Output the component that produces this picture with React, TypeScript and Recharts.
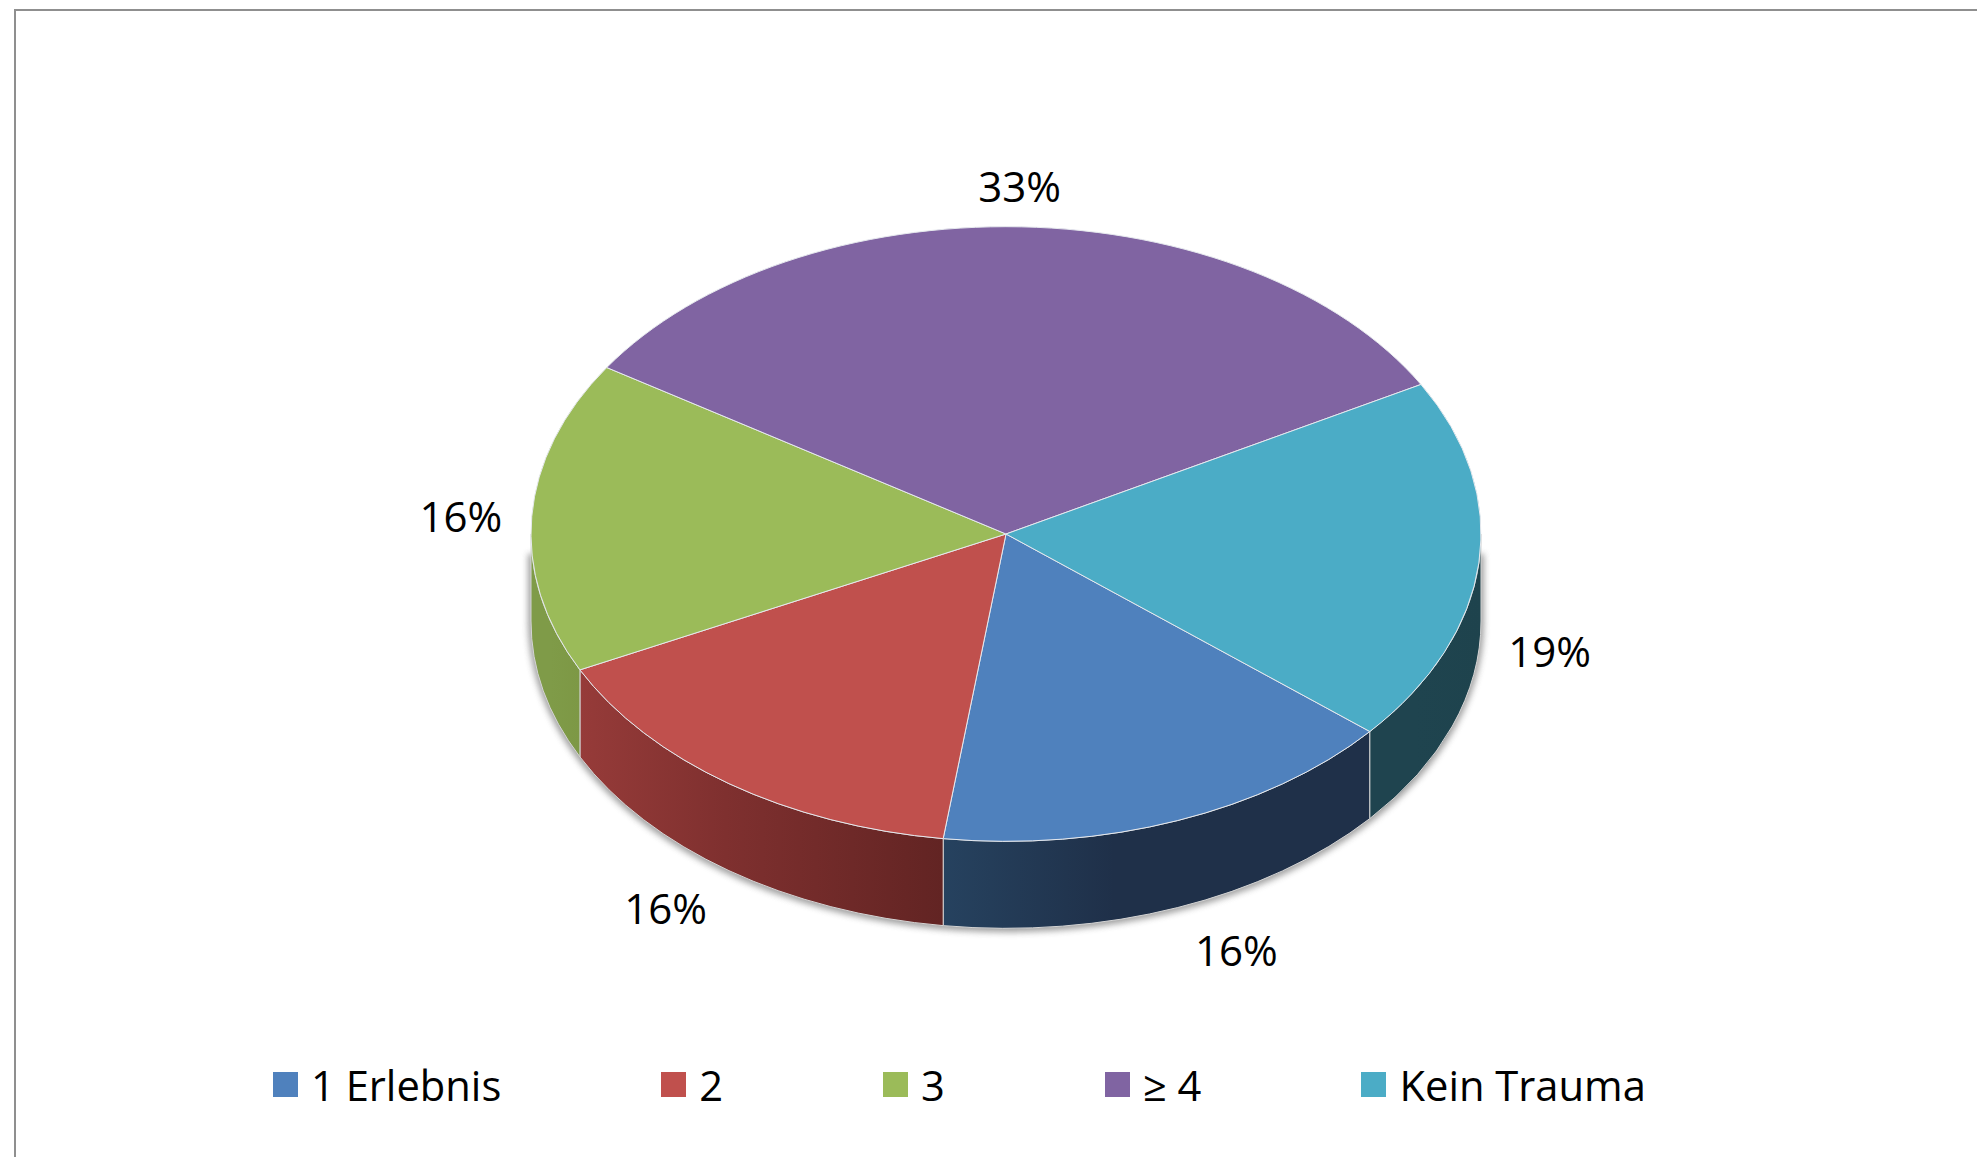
import { PieChart, Pie, Legend } from "recharts";

const categories = ["1 Erlebnis", "2", "3", "≥ 4", "Kein Trauma"];
const shares = [16.0, 15.6, 16.4, 32.8, 19.2];
const colors = ["#4f81bd", "#c0504d", "#9bbb59", "#8064a2", "#4bacc6"];

const data = categories.map((name, i) => ({ name, value: shares[i], fill: colors[i] }));

// side wall shading, left to right
const wallShades = [
  ["#26425f", "#1f3049", "#1f3049"],
  ["#963b39", "#7f302f", "#622423"],
  ["#7f9b48", "#7f9b48", "#7d9845"],
  ["#4d3b62", "#4d3b62", "#4d3b62"],
  ["#1f444f", "#1f444f", "#1e434d"],
];

const FONT = "'Open Sans', sans-serif";
const SQUASH = 0.647; // pie is tilted, so circle becomes ellipse
const DEPTH = 87;

// hand nudges for the percent labels, Excel places them a bit unevenly
const labelNudge = [
  [33, -2],
  [-22, 4],
  [0, -45],
  [-4, -3],
  [0, 30],
];

const rad = (deg: number) => (deg * Math.PI) / 180;

function PieSlice(props: any) {
  const { cx, cy, outerRadius: r, startAngle, endAngle, fill, name } = props;
  const idx = categories.indexOf(name);
  const ry = r * SQUASH;
  const pt = (a: number, dy = 0) => [cx + r * Math.cos(rad(-a)), cy + ry * Math.sin(rad(-a)) + dy];

  const [x1, y1] = pt(startAngle);
  const [x2, y2] = pt(endAngle);
  const large = Math.abs(endAngle - startAngle) > 180 ? 1 : 0;
  const top = `M${cx},${cy} L${x1},${y1} A${r},${ry} 0 ${large} 1 ${x2},${y2} Z`;

  // only the part of the rim facing the viewer gets a wall
  const from = -startAngle;
  const to = -endAngle;
  const walls: string[] = [];
  [[0, 180], [360, 540]].forEach(([lo, hi]) => {
    const a = Math.max(from, lo);
    const b = Math.min(to, hi);
    if (b > a) {
      const [ax, ay] = pt(-a);
      const [bx, by] = pt(-b);
      walls.push(
        `M${ax},${ay} A${r},${ry} 0 0 1 ${bx},${by} L${bx},${by + DEPTH} A${r},${ry} 0 0 0 ${ax},${ay + DEPTH} Z`
      );
    }
  });

  const sr = r + 3;
  const shadow = `M${cx - sr},${cy + 20} L${cx - sr},${cy + DEPTH + 1} A${sr},${ry + 3} 0 0 0 ${cx + sr},${cy + DEPTH + 1} L${cx + sr},${cy + 20} Z`;

  return (
    <g>
      <defs>
        <linearGradient id={`wall-${idx}`} x1="0" y1="0" x2="1" y2="0">
          <stop offset="0%" stopColor={wallShades[idx][0]} />
          <stop offset="40%" stopColor={wallShades[idx][1]} />
          <stop offset="100%" stopColor={wallShades[idx][2]} />
        </linearGradient>
        {idx === 0 && (
          <filter id="base-shadow" x="-5%" y="-10%" width="110%" height="120%">
            <feGaussianBlur stdDeviation="3" />
          </filter>
        )}
      </defs>
      {idx === 0 && <path d={shadow} fill="#6e6e6e" opacity={0.65} filter="url(#base-shadow)" />}
      {walls.map((d) => (
        <path key={d} d={d} fill={`url(#wall-${idx})`} stroke="#d4d4d4" strokeWidth={1} />
      ))}
      <path d={top} fill={fill} stroke="#e6e9ee" strokeWidth={1} strokeLinejoin="round" />
    </g>
  );
}

function PercentLabel(props: any) {
  const { cx, cy, midAngle, value, index } = props;
  const c = Math.cos(rad(-midAngle));
  const s = Math.sin(rad(-midAngle));
  const x = cx + 546 * c + labelNudge[index][0];
  const y = cy + 49 + 395 * s + labelNudge[index][1];
  return (
    <text x={x} y={y} textAnchor="middle" dominantBaseline="central" fontFamily={FONT} fontSize={42} fill="#000">
      {Math.round(value)}%
    </text>
  );
}

function LegendRow({ payload }: any) {
  return (
    <div style={{ display: "flex", gap: 160, alignItems: "center", fontFamily: FONT, fontSize: 41.7, color: "#000" }}>
      {(payload || []).map((p: any) => (
        <div key={p.value} style={{ display: "flex", alignItems: "center", gap: 13, whiteSpace: "nowrap" }}>
          <span style={{ width: 25, height: 25, background: p.color, display: "inline-block" }} />
          <span>{p.value}</span>
        </div>
      ))}
    </div>
  );
}

export default function App() {
  return (
    <div style={{ position: "absolute", left: 0, top: 0, width: 1977, height: 1157, background: "#fff", overflow: "hidden" }}>
      <div
        style={{
          position: "absolute",
          left: 14,
          top: 9,
          right: 0,
          bottom: 0,
          borderLeft: "2px solid #8f8f8f",
          borderTop: "2px solid #8f8f8f",
        }}
      />
      <PieChart width={1977} height={1157} style={{ position: "absolute", left: 0, top: 0 }}>
        <Pie
          data={data}
          dataKey="value"
          nameKey="name"
          cx={1001}
          cy={529}
          outerRadius={475}
          startAngle={-40}
          endAngle={-400}
          stroke="none"
          shape={PieSlice}
          label={PercentLabel}
          labelLine={false}
          isAnimationActive={false}
        />
        <Legend
          content={LegendRow}
          itemSorter={null}
          wrapperStyle={{ left: 273, top: 1056, width: 1500, bottom: "auto" }}
        />
      </PieChart>
    </div>
  );
}
